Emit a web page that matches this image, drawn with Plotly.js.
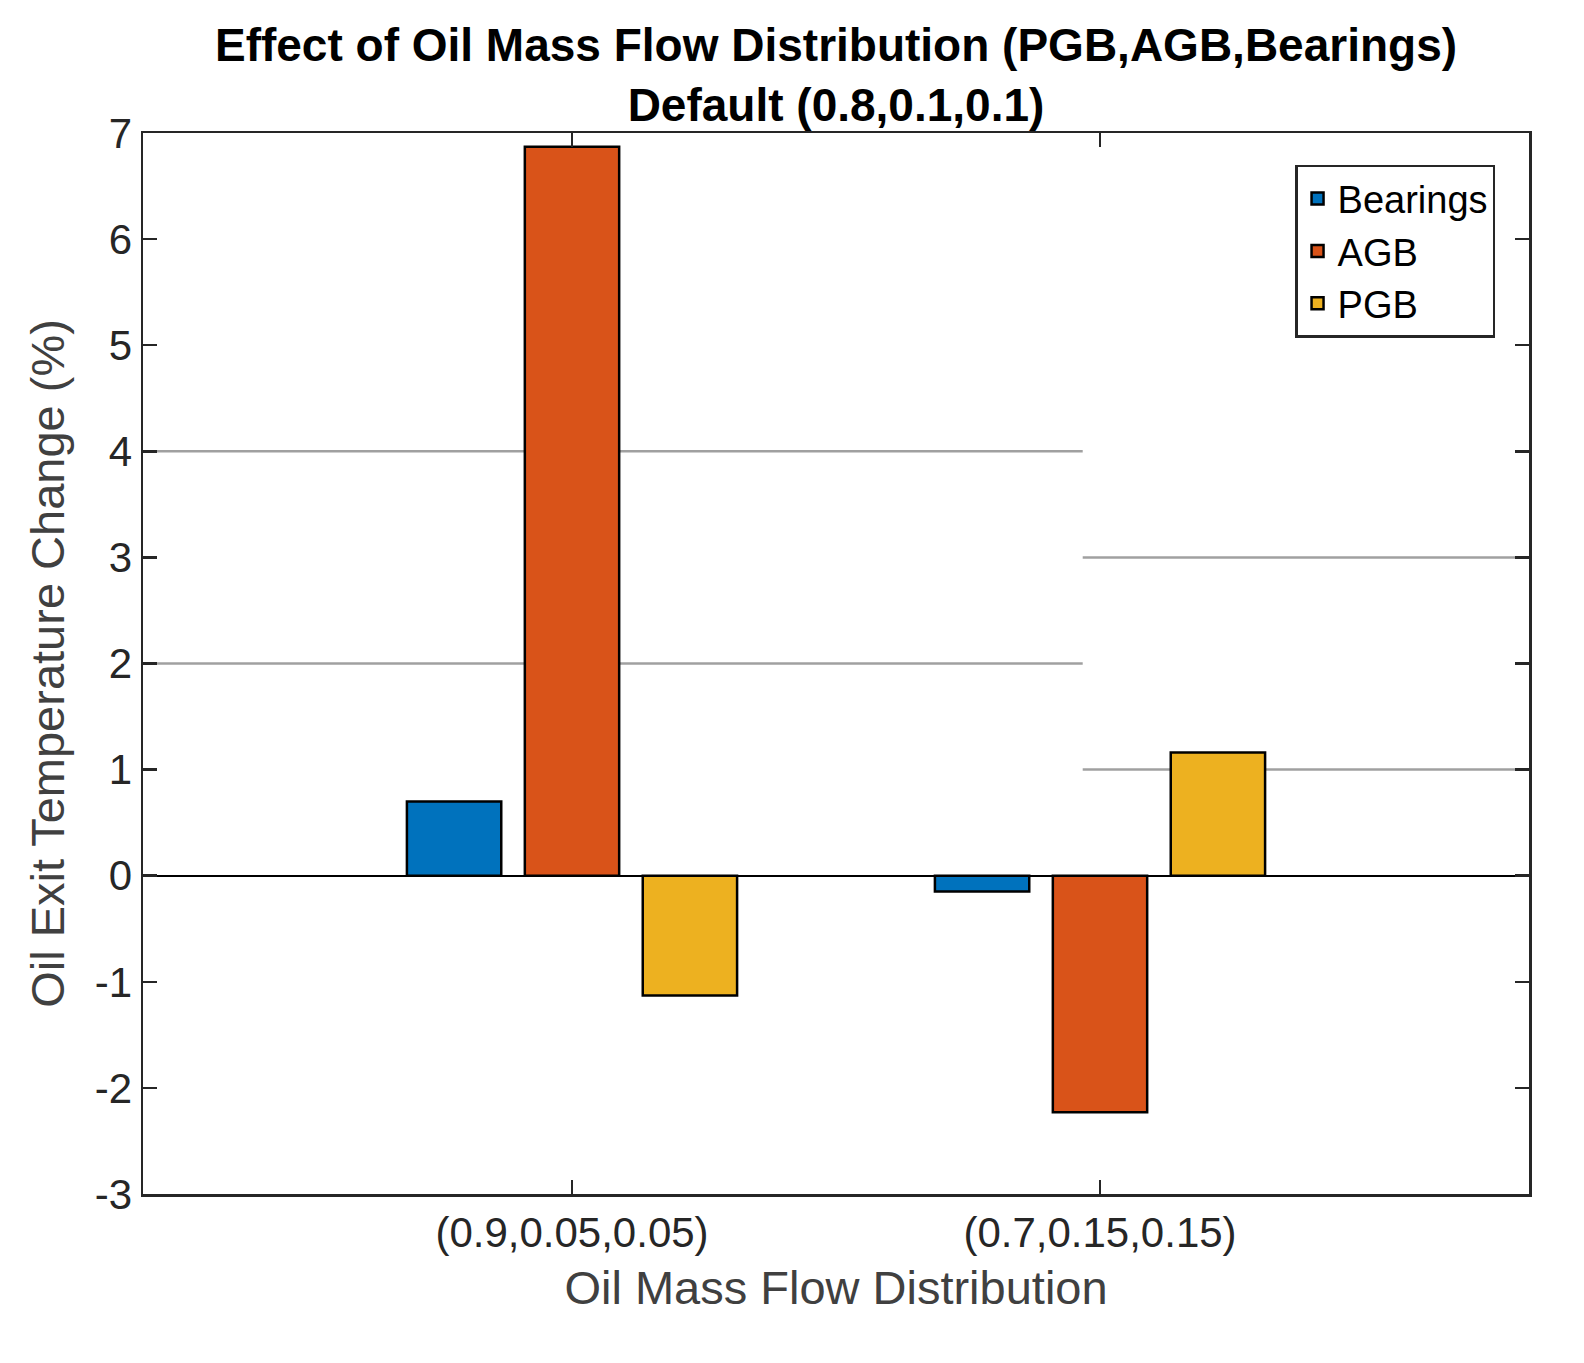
<!DOCTYPE html>
<html>
<head>
<meta charset="utf-8">
<script src="https://cdn.plot.ly/plotly-3.0.1.min.js"></script>
<style>
  html, body { margin: 0; padding: 0; background: #fff; overflow: hidden; }
  #chart { width: 1584px; height: 1363px; }
</style>
</head>
<body>
<div id="chart"></div>
<script>
// flow split categories (PGB,AGB,Bearings)
var categories = ['(0.9,0.05,0.05)', '(0.7,0.15,0.15)'];
var bearings = [0.70, -0.15];
var agb = [6.87, -2.23];
var pgb = [-1.13, 1.16];

var yTicks = [-3, -2, -1, 0, 1, 2, 3, 4, 5, 6, 7];
var yTickText = ['-3', '-2', '-1', '0', '1', '2', '3', '4', '5', '6', '7'];
// faint partial grid lines visible in the original figure
var leftGrid = [4, 2];
var rightGrid = [3, 1];

var axisColor = '#262626';
var fontFam = 'Arial, "Liberation Sans", Helvetica, sans-serif';

function barTrace(name, vals, color) {
  return {
    type: 'bar',
    name: name,
    x: categories,
    y: vals,
    marker: { color: color, line: { color: '#000000', width: 2.5 } }
  };
}

var data = [
  barTrace('Bearings', bearings, '#0072BD'),
  barTrace('AGB', agb, '#D95319'),
  barTrace('PGB', pgb, '#EDB120')
];

var shapes = [];
leftGrid.forEach(function (v) {
  shapes.push({ type: 'line', xref: 'paper', yref: 'y', x0: 0, x1: 0.678, y0: v, y1: v,
    line: { color: '#a0a0a0', width: 2.5 }, layer: 'below' });
});
rightGrid.forEach(function (v) {
  shapes.push({ type: 'line', xref: 'paper', yref: 'y', x0: 0.678, x1: 1, y0: v, y1: v,
    line: { color: '#a0a0a0', width: 2.5 }, layer: 'below' });
});

var layout = {
  width: 1584,
  height: 1363,
  paper_bgcolor: '#ffffff',
  plot_bgcolor: '#ffffff',
  margin: { l: 143, r: 55, t: 133, b: 169 },
  font: { family: fontFam, color: axisColor },
  title: {
    text: '<b>Effect of Oil Mass Flow Distribution (PGB,AGB,Bearings)</b><br><b>Default (0.8,0.1,0.1)</b>',
    font: { family: fontFam, size: 46, color: '#000000' },
    xref: 'paper',
    x: 0.5,
    xanchor: 'center',
    yref: 'paper',
    y: 1,
    yanchor: 'bottom',
    pad: { b: 72 }
  },
  barmode: 'group',
  bargap: 0.33,
  bargroupgap: 0.2,
  showlegend: true,
  legend: {
    x: 0.9755,
    y: 0.970,
    xanchor: 'right',
    yanchor: 'top',
    bgcolor: '#ffffff',
    bordercolor: axisColor,
    borderwidth: 2.5,
    font: { family: fontFam, size: 38, color: '#000000' },
    traceorder: 'normal'
  },
  xaxis: {
    type: 'category',
    range: [-0.8125, 1.8125],
    showline: true,
    linecolor: axisColor,
    linewidth: 2.5,
    mirror: 'ticks',
    ticks: 'inside',
    ticklen: 14,
    tickwidth: 2.5,
    tickcolor: axisColor,
    showgrid: false,
    tickfont: { family: fontFam, size: 42, color: axisColor },
    title: {
      text: 'Oil Mass Flow Distribution',
      font: { family: fontFam, size: 47, color: '#404040' },
      standoff: 16
    },
    fixedrange: true
  },
  yaxis: {
    range: [-3, 7],
    tickvals: yTicks,
    ticktext: yTickText,
    showline: true,
    linecolor: axisColor,
    linewidth: 2.5,
    mirror: 'ticks',
    ticks: 'inside',
    ticklen: 14,
    tickwidth: 2.5,
    tickcolor: axisColor,
    showgrid: false,
    zeroline: true,
    zerolinecolor: '#000000',
    zerolinewidth: 2,
    tickfont: { family: fontFam, size: 42, color: axisColor },
    title: {
      text: 'Oil Exit Temperature Change (%)',
      font: { family: fontFam, size: 47, color: '#404040' },
      standoff: 16
    },
    fixedrange: true
  },
  shapes: shapes
};

Plotly.newPlot('chart', data, layout, { displayModeBar: false, staticPlot: true });
</script>
</body>
</html>
